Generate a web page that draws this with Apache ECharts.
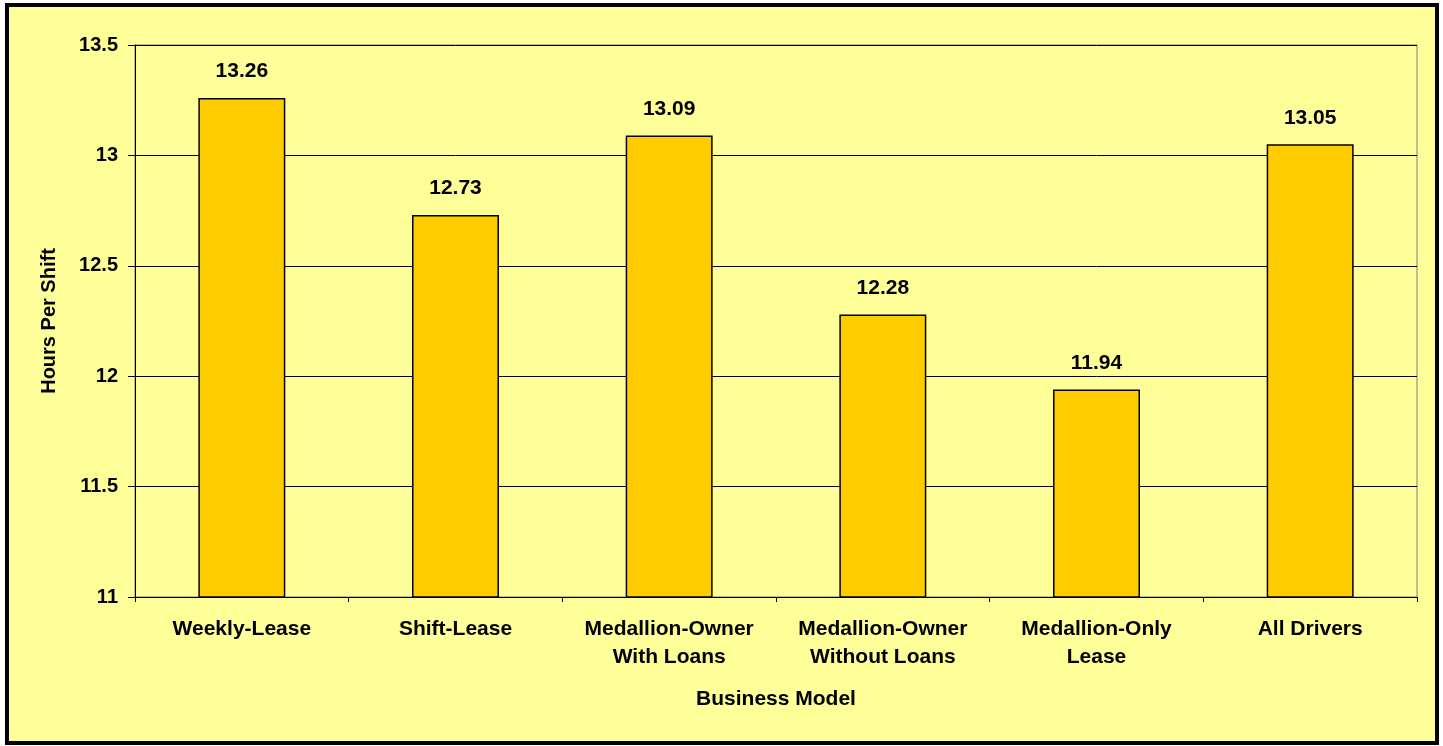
<!DOCTYPE html>
<html lang="en">
<head>
    <meta charset="UTF-8">
    <title>Hours Per Shift</title>
    <script src="https://cdn.jsdelivr.net/npm/echarts@6/dist/echarts.min.js"></script>
    <style>
        html, body { margin: 0; padding: 0; background: #fff; }
        #main { position: absolute; left: 5px; top: 3px; width: 1426px; height: 734px;
                border: 4px solid #000; background: #FFFF99; }
    </style>
</head>
<body>
    <div id="main"></div>
    <script>
        // data
        var categories = ['Weekly-Lease', 'Shift-Lease', 'Medallion-Owner\nWith Loans',
                          'Medallion-Owner\nWithout Loans', 'Medallion-Only\nLease', 'All Drivers'];
        var hours = [13.26, 12.73, 13.09, 12.28, 11.94, 13.05];
        var yMin = 11, yMax = 13.5, yStep = 0.5;

        var font = '"Liberation Sans", Arial, sans-serif';
        var mCharts = echarts.init(document.getElementById('main'));
        var option = {
            backgroundColor: '#FFFF99',
            animation: false,
            grid: {
                left: 126, right: 18, top: 38, bottom: 144,
                show: true, borderColor: '#808080', borderWidth: 1, backgroundColor: 'transparent'
            },
            xAxis: {
                type: 'category',
                data: categories,
                name: 'Business Model',
                nameLocation: 'middle',
                nameGap: 92,
                nameTextStyle: { fontFamily: font, fontWeight: 'bold', fontSize: 21, color: '#000' },
                axisLine: { lineStyle: { color: '#000', width: 1 } },
                axisTick: { show: true, length: 5, inside: false, lineStyle: { color: '#000' } },
                axisLabel: {
                    fontFamily: font, fontWeight: 'bold', fontSize: 21, color: '#000',
                    margin: 18, lineHeight: 28, interval: 0
                }
            },
            yAxis: {
                type: 'value',
                min: yMin, max: yMax, interval: yStep,
                name: 'Hours Per Shift',
                nameLocation: 'middle',
                nameGap: 76,
                nameRotate: 90,
                nameTextStyle: { fontFamily: font, fontWeight: 'bold', fontSize: 20, color: '#000' },
                axisLine: { show: true, lineStyle: { color: '#000', width: 1 } },
                axisTick: { show: true, length: 7, lineStyle: { color: '#000' } },
                axisLabel: { fontFamily: font, fontWeight: 'bold', fontSize: 20, color: '#000', margin: 17 },
                splitLine: { show: true, lineStyle: { color: '#000', width: 1 } }
            },
            series: [{
                type: 'bar',
                data: hours,
                barWidth: '40.7%',
                itemStyle: { color: '#FFCC00', borderColor: '#000', borderWidth: 1.5 },
                label: {
                    show: true, position: 'top', distance: 14,
                    fontFamily: font, fontWeight: 'bold', fontSize: 21, color: '#000',
                    backgroundColor: '#FFFF99', padding: [2, 6],
                    formatter: function (p) { return p.value.toFixed(2); }
                }
            }]
        };
        mCharts.setOption(option);
    </script>
</body>
</html>
